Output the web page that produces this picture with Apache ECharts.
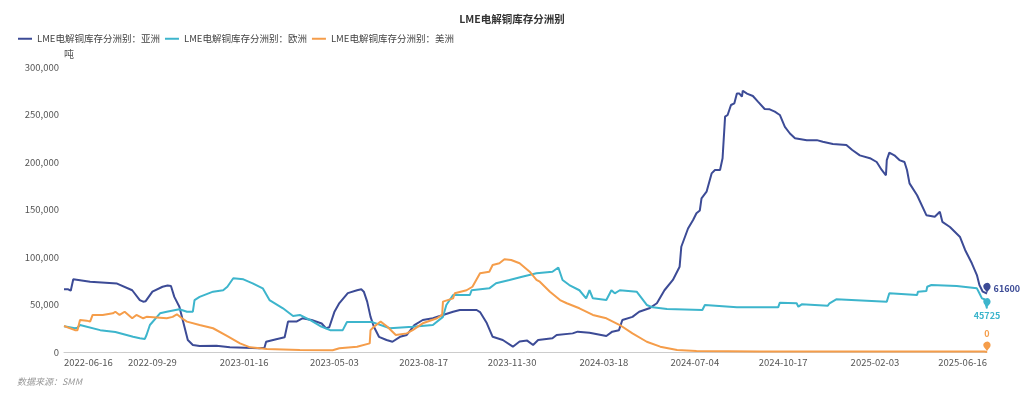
<!DOCTYPE html>
<html>
<head>
<meta charset="utf-8">
<script src="https://cdn.jsdelivr.net/npm/echarts@6/dist/echarts.min.js"></script>
<style>
  html, body { margin: 0; padding: 0; background: #fff; }
  #main { width: 1024px; height: 399px; }
</style>
</head>
<body>
<div id="main"></div>
<script>
// 读图得到的数据（吨）
var seriesNames = ['LME电解铜库存分洲别：亚洲', 'LME电解铜库存分洲别：欧洲', 'LME电解铜库存分洲别：美洲']
var colors = ['#3c4b96', '#3db5cc', '#f59d4a']
var xTicks = ['2022-06-16', '2022-09-29', '2023-01-16', '2023-05-03', '2023-08-17', '2023-11-30',
  '2024-03-18', '2024-07-04', '2024-10-17', '2025-02-03', '2025-06-16']

var asia = [['2022-06-16',66000],['2022-06-21',66000],['2022-06-24',64500],['2022-06-27',76500],['2022-07-01',76000],
  ['2022-07-17',74000],['2022-08-18',72000],['2022-09-05',65000],['2022-09-14',54700],['2022-09-18',53000],
  ['2022-09-21',53500],['2022-09-29',63500],['2022-10-11',68700],['2022-10-17',70000],['2022-10-21',69500],
  ['2022-10-25',58000],['2022-10-31',47700],['2022-11-06',26600],['2022-11-10',12600],['2022-11-16',7400],
  ['2022-11-24',6300],['2022-12-14',6500],['2022-12-30',5000],['2023-01-17',4500],['2023-02-03',4000],
  ['2023-02-09',4500],['2023-02-11',10800],['2023-02-23',13400],['2023-03-05',15500],['2023-03-09',32000],
  ['2023-03-19',32000],['2023-03-26',35500],['2023-04-06',33700],['2023-04-18',30000],['2023-04-23',25000],
  ['2023-04-27',26000],['2023-05-03',42000],['2023-05-09',51500],['2023-05-19',62000],['2023-05-30',65000],
  ['2023-06-04',66000],['2023-06-07',63500],['2023-06-11',53000],['2023-06-15',37000],['2023-06-19',26600],
  ['2023-06-25',16000],['2023-07-04',12600],['2023-07-11',10800],['2023-07-20',16000],['2023-07-28',17900],
  ['2023-08-06',28400],['2023-08-16',33700],['2023-08-28',35500],['2023-09-09',39000],['2023-09-21',42400],
  ['2023-09-29',44200],['2023-10-19',44200],['2023-10-23',42000],['2023-10-31',30500],['2023-11-07',16000],
  ['2023-11-19',12600],['2023-12-01',5600],['2023-12-09',11000],['2023-12-18',12000],['2023-12-25',7400],
  ['2023-12-31',12600],['2024-01-17',14400],['2024-01-22',17900],['2024-02-10',19600],['2024-02-16',21400],
  ['2024-03-01',20300],['2024-03-21',16800],['2024-03-28',21400],['2024-04-05',23000],['2024-04-09',33700],
  ['2024-04-21',37000],['2024-04-29',42400],['2024-05-11',46000],['2024-05-20',51300],['2024-05-29',65000],
  ['2024-06-08',75800],['2024-06-16',89800],['2024-06-18',110800],['2024-06-26',130000],['2024-07-02',139000],
  ['2024-07-06',146000],['2024-07-10',149000],['2024-07-12',161800],['2024-07-18',168700],['2024-07-24',188000],
  ['2024-07-28',191600],['2024-08-03',191600],['2024-08-06',203900],['2024-08-09',247700],['2024-08-12',249500],
  ['2024-08-16',260000],['2024-08-20',261800],['2024-08-23',272000],['2024-08-26',272000],['2024-08-29',268700],
  ['2024-08-30',275000],['2024-09-04',272000],['2024-09-11',269500],['2024-09-17',263500],['2024-09-25',255800],
  ['2024-10-01',255400],['2024-10-07',253000],['2024-10-13',249500],['2024-10-19',237000],['2024-10-25',230000],
  ['2024-10-31',225000],['2024-11-14',223000],['2024-11-26',223000],['2024-12-03',221400],['2024-12-15',219000],
  ['2024-12-31',218000],['2025-01-07',212600],['2025-01-16',207000],['2025-01-28',204000],['2025-02-05',200000],
  ['2025-02-11',191600],['2025-02-16',186000],['2025-02-17',202000],['2025-02-20',209800],['2025-02-26',207000],
  ['2025-03-04',202000],['2025-03-10',200000],['2025-03-13',191600],['2025-03-16',177500],['2025-03-25',165000],
  ['2025-04-05',144000],['2025-04-15',142400],['2025-04-17',140700],['2025-04-21',147700],['2025-04-24',137000],
  ['2025-05-03',131600],['2025-05-15',121000],['2025-05-21',107400],['2025-05-29',93400],['2025-06-04',81000],
  ['2025-06-07',70500],['2025-06-11',63500],['2025-06-16',61600]]

var europe = [['2022-06-16',27000],['2022-06-29',25000],['2022-07-02',25500],['2022-07-05',28400],['2022-07-29',23000],
  ['2022-08-16',21000],['2022-09-06',16000],['2022-09-14',14400],['2022-09-20',13700],['2022-09-22',17900],
  ['2022-09-26',28400],['2022-10-08',40700],['2022-10-16',42400],['2022-10-31',45000],['2022-11-09',42400],
  ['2022-11-16',42400],['2022-11-18',54700],['2022-11-24',58000],['2022-12-10',63500],['2022-12-22',65000],
  ['2022-12-27',68700],['2023-01-03',77600],['2023-01-15',76500],['2023-01-26',72300],['2023-02-07',67000],
  ['2023-02-15',54700],['2023-03-03',46000],['2023-03-15',37900],['2023-03-23',39000],['2023-04-04',33700],
  ['2023-04-16',27400],['2023-04-28',23000],['2023-05-13',23000],['2023-05-18',31500],['2023-06-17',31500],
  ['2023-07-08',25000],['2023-08-04',26600],['2023-08-28',28400],['2023-09-09',37000],['2023-09-13',49500],
  ['2023-09-21',60000],['2023-10-11',60000],['2023-10-13',65000],['2023-11-03',67000],['2023-11-11',72300],
  ['2023-11-27',75800],['2023-12-12',79300],['2023-12-29',82800],['2024-01-17',84500],['2024-01-24',89000],
  ['2024-01-29',75800],['2024-02-06',70500],['2024-02-18',65000],['2024-02-26',56500],['2024-03-01',65000],
  ['2024-03-05',56500],['2024-03-21',54700],['2024-03-27',65000],['2024-03-31',61800],['2024-04-06',65000],
  ['2024-04-26',63500],['2024-05-08',49500],['2024-05-15',47000],['2024-06-01',45300],['2024-07-13',44200],
  ['2024-07-16',49500],['2024-08-23',47000],['2024-10-11',47000],['2024-10-13',51900],['2024-11-02',51300],
  ['2024-11-04',47700],['2024-11-08',50200],['2024-12-09',48800],['2024-12-11',51300],['2024-12-19',55500],
  ['2025-02-17',53000],['2025-02-20',61800],['2025-03-25',60000],['2025-03-26',63500],['2025-04-05',64200],
  ['2025-04-06',68700],['2025-04-11',70500],['2025-05-11',69500],['2025-06-04',67000],['2025-06-07',61800],
  ['2025-06-10',56500],['2025-06-13',55500],['2025-06-16',45725]]

var america = [['2022-06-16',27400],['2022-06-29',23000],['2022-07-02',23000],['2022-07-05',33700],['2022-07-13',33000],
  ['2022-07-17',32000],['2022-07-20',39000],['2022-08-01',39000],['2022-08-13',40700],['2022-08-16',42400],
  ['2022-08-21',39000],['2022-08-27',42400],['2022-09-05',35500],['2022-09-10',39000],['2022-09-18',35500],
  ['2022-09-22',37000],['2022-10-16',35500],['2022-10-23',37000],['2022-10-28',39700],['2022-11-03',35500],
  ['2022-11-09',32000],['2022-11-24',28400],['2022-12-10',25000],['2022-12-27',16800],['2023-01-11',9100],
  ['2023-01-23',4900],['2023-02-12',3200],['2023-03-23',2100],['2023-05-01',1800],['2023-05-09',3900],
  ['2023-05-30',5600],['2023-06-14',9100],['2023-06-15',23000],['2023-06-19',26600],['2023-06-27',32000],
  ['2023-07-05',26600],['2023-07-15',17900],['2023-07-28',19600],['2023-08-04',23000],['2023-08-16',30200],
  ['2023-09-02',35500],['2023-09-08',39000],['2023-09-09',53000],['2023-09-21',56500],['2023-09-23',61800],
  ['2023-10-07',65000],['2023-10-14',68700],['2023-10-23',82800],['2023-11-03',84500],['2023-11-07',91600],
  ['2023-11-15',93400],['2023-11-21',97600],['2023-11-29',96800],['2023-12-09',93400],['2023-12-21',84500],
  ['2023-12-29',76000],['2024-01-02',74000],['2024-01-14',63500],['2024-01-26',54700],['2024-02-03',51300],
  ['2024-02-18',46000],['2024-03-05',39000],['2024-03-21',35500],['2024-04-06',28400],['2024-04-21',19600],
  ['2024-05-08',10800],['2024-05-24',5600],['2024-06-13',2100],['2024-07-06',1000],['2024-09-19',600],
  ['2025-06-13',500],['2025-06-16',0]]

var allData = [asia, europe, america]
var endLabelPos = ['right', 'bottom', 'top']

function toTime(s) {
  var p = s.split('-')
  return new Date(+p[0], +p[1] - 1, +p[2]).getTime()
}
function pad(n) { return n < 10 ? '0' + n : '' + n }
function fmtDate(v) {
  var d = new Date(v)
  return d.getFullYear() + '-' + pad(d.getMonth() + 1) + '-' + pad(d.getDate())
}

var chart = echarts.init(document.getElementById('main'))

var series = allData.map(function (data, i) {
  var pts = data.map(function (d) { return [toTime(d[0]), d[1]] })
  var last = pts[pts.length - 1]
  return {
    name: seriesNames[i],
    type: 'line',
    data: pts,
    symbol: 'none',
    lineStyle: { width: 2, color: colors[i] },
    itemStyle: { color: colors[i] },
    markPoint: {
      symbol: 'pin',
      symbolSize: 12,
      silent: true,
      data: [{ coord: last, value: last[1] }],
      label: {
        show: true,
        position: endLabelPos[i],
        distance: 3,
        color: colors[i],
        fontSize: 9,
        fontWeight: 'bold',
        formatter: function (p) { return p.value }
      }
    }
  }
})

chart.setOption({
  textStyle: { fontFamily: '"Noto Sans CJK SC", "Noto Sans", sans-serif' },
  title: [
    {
      text: 'LME电解铜库存分洲别',
      left: 'center',
      top: 9,
      textStyle: { fontSize: 10.5, fontWeight: 'bold', color: '#333' }
    },
    {
      text: '数据来源：SMM',
      left: 12,
      top: 372,
      textStyle: { fontSize: 9, fontStyle: 'italic', fontWeight: 'normal', color: '#999' }
    }
  ],
  color: colors,
  legend: {
    left: 13,
    top: 29,
    icon: 'rect',
    itemWidth: 14,
    itemHeight: 2,
    itemGap: 5,
    textStyle: { fontSize: 9.5, color: '#444' },
    data: seriesNames
  },
  grid: { left: 64, right: 37, top: 67, bottom: 47, containLabel: false },
  xAxis: {
    type: 'value',
    min: toTime(xTicks[0]),
    max: toTime(xTicks[xTicks.length - 1]),
    axisLine: { show: true, lineStyle: { color: '#ccc' } },
    axisTick: { show: false },
    splitLine: { show: false },
    axisLabel: {
      customValues: xTicks.map(toTime),
      color: '#555',
      fontSize: 9.5,
      margin: 6,
      alignMinLabel: 'left',
      alignMaxLabel: 'right',
      formatter: function (v) { return fmtDate(v) }
    }
  },
  yAxis: {
    type: 'value',
    name: '吨',
    nameGap: 8,
    nameTextStyle: { color: '#555', fontSize: 10, align: 'left' },
    min: 0,
    max: 300000,
    interval: 50000,
    axisLine: { show: false },
    axisTick: { show: false },
    splitLine: { show: false },
    axisLabel: {
      color: '#555',
      fontSize: 9.5,
      margin: 5,
      formatter: function (v) { return v.toLocaleString('en-US') }
    }
  },
  series: series
})
</script>
</body>
</html>
